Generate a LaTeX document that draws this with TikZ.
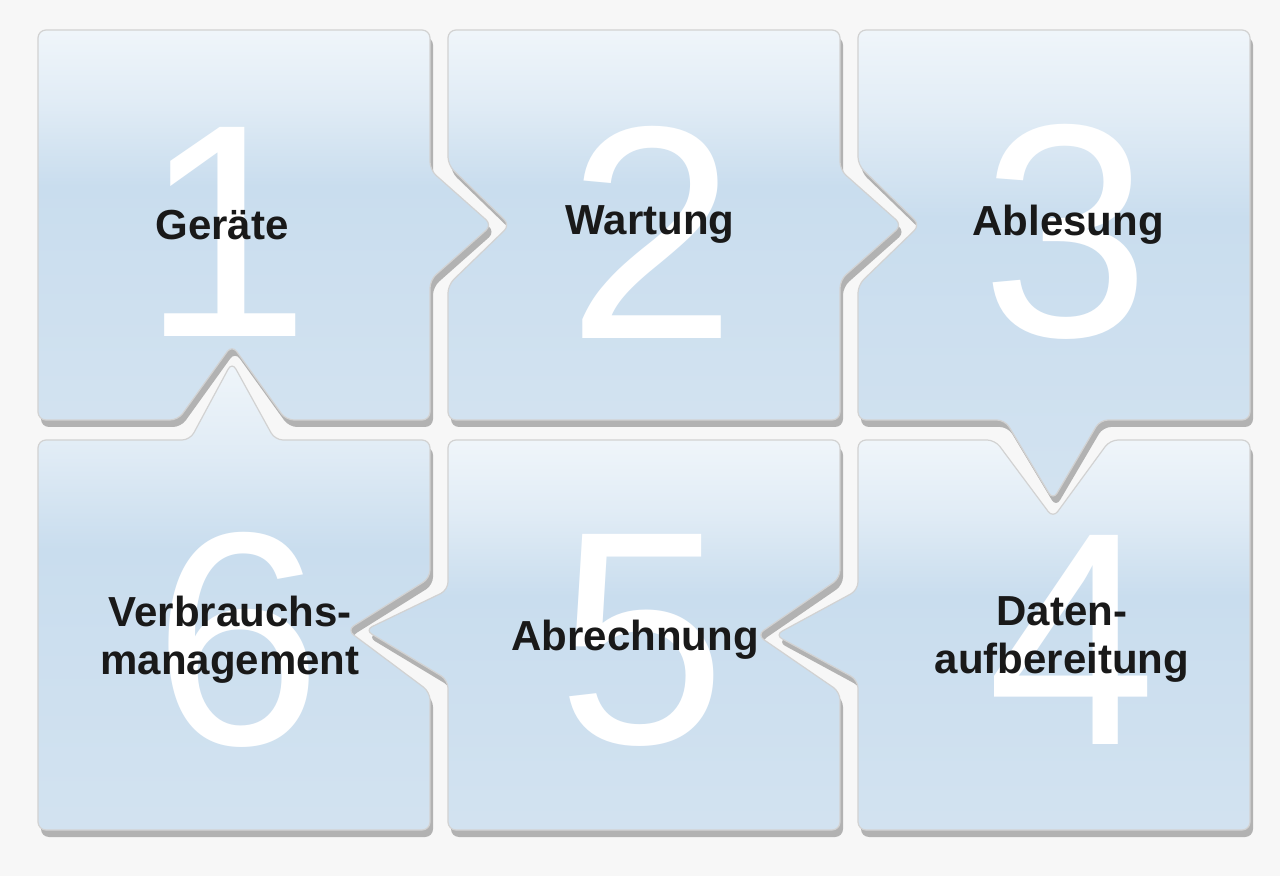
\documentclass[tikz,border=0pt]{standalone}
\usepackage{fontspec}
\setmainfont{Liberation Sans}
\definecolor{tileblue}{HTML}{C9DDEE}
\definecolor{tilelow}{HTML}{DAE7F2}
\pgfdeclareverticalshading{tileshade}{100bp}{color(0bp)=(tilelow); color(55bp)=(tileblue); color(66bp)=(tileblue!55!white); color(85bp)=(white); color(100bp)=(white)}
\begin{document}
\begin{tikzpicture}[x=0.5pt, y=-0.5pt,
	tile/.style= {shading=tileshade, draw=gray!35, line width=0.6pt, rounded corners=4pt},
	shadow/.style= {fill=black!30, rounded corners=4pt},
	num/.style= {text=white, font=\fontsize{152}{152}\selectfont},
	label/.style= {text=black!90, font=\fontsize{21}{24}\bfseries, align=center}]
	% background
	\fill [black!3] (0,0) rectangle (1280,876);
	\useasboundingbox (0,0) rectangle (1280,876);

	% tiles
	\def\tileA{(38,30) -- (430,30) -- (430,170) -- (492,225) -- (430,280) -- (430,420) -- (286,420) -- (232,345) -- (178,420) -- (38,420) -- cycle}
	\def\tileB{(448,30) -- (840,30) -- (840,170) -- (902,225) -- (840,280) -- (840,420) -- (448,420) -- (448,285) -- (510,225) -- (448,165) -- cycle}
	\def\tileC{(858,30) -- (1250,30) -- (1250,420) -- (1100,420) -- (1053,500) -- (1005,420) -- (858,420) -- (858,285) -- (920,225) -- (858,165) -- cycle}
	\def\tileD{(858,440) -- (995,440) -- (1053,518) -- (1110,440) -- (1250,440) -- (1250,830) -- (858,830) -- (858,680) -- (775,635) -- (858,590) -- cycle}
	\def\tileE{(448,440) -- (840,440) -- (840,578) -- (757,635) -- (840,692) -- (840,830) -- (448,830) -- (448,680) -- (365,630) -- (448,590) -- cycle}
	\def\tileF{(38,440) -- (190,440) -- (232,362) -- (275,440) -- (430,440) -- (430,578) -- (347,630) -- (430,692) -- (430,830) -- (38,830) -- cycle}
	\foreach \t in {\tileA,\tileB,\tileC,\tileD,\tileE,\tileF}
		\fill [shadow, shift={(3,7)}] \t;
	\foreach \t in {\tileA,\tileB,\tileC,\tileD,\tileE,\tileF}
		\shade [tile] \t;

	% numbers
	\node [num] (n1) at (226,232) {1};
	\node [num] (n2) at (652,232) {2};
	\node [num] (n3) at (1066,232) {3};
	\node [num] (n4) at (1072,640) {4};
	\node [num] (n5) at (642,640) {5};
	\node [num] (n6) at (238,640) {6};

	% labels
	\node [label] (l1) at (222,225) {Geräte};
	\node [label] (l2) at (650,225) {Wartung};
	\node [label] (l3) at (1068,225) {Ablesung};
	\node [label] (l4) at (1062,640) {Daten-\\aufbereitung};
	\node [label] (l5) at (635,640) {Abrechnung};
	\node [label] (l6) at (230,640) {Verbrauchs-\\management};
\end{tikzpicture}
\end{document}
